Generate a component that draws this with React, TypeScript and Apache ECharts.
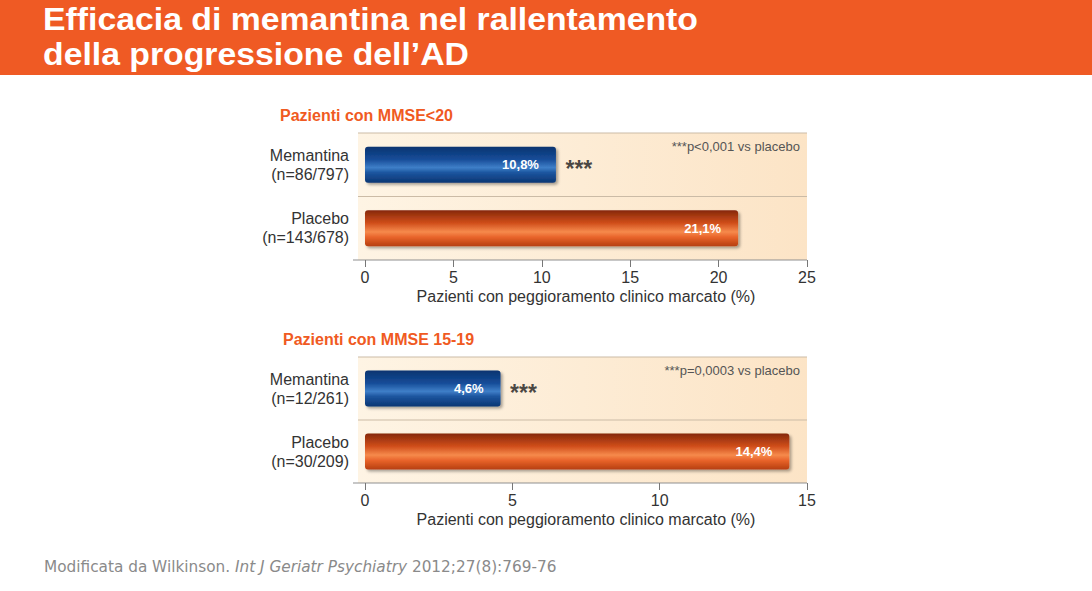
import React, { useEffect, useRef } from "react";
import * as echarts from "echarts";

const titleLines = ["Efficacia di memantina nel rallentamento", "della progressione dell\u2019AD"];
const panelTitles = ["Pazienti con MMSE<20", "Pazienti con MMSE 15-19"];
const groups1 = ["Memantina\n(n=86/797)", "Placebo\n(n=143/678)"];
const values1 = [10.8, 21.1];
const groups2 = ["Memantina\n(n=12/261)", "Placebo\n(n=30/209)"];
const values2 = [4.6, 14.4];
const axisMax = [25, 15];
const axisInterval = [5, 5];
const notes = ["***p<0,001 vs placebo", "***p=0,0003 vs placebo"];
const stars = "***";
const axisName = "Pazienti con peggioramento clinico marcato (%)";
const footerPlain = "Modificata da Wilkinson. ";
const footerItalic = "Int J Geriatr Psychiatry";
const footerEnd = " 2012;27(8):769-76";

const W = 1092;
const H = 591;
const PLOT_L = 365;
const PLOT_R = 807;
const EXT_L = 358;
const panels = [
  { top: 133, bottom: 260, titleY: 116, titleX: 280 },
  { top: 357, bottom: 483, titleY: 340, titleX: 283 },
];

const FONT = "'Liberation Sans', Arial, sans-serif";

const blueGrad = new echarts.graphic.LinearGradient(0, 0, 0, 1, [
  { offset: 0, color: "#0a3470" },
  { offset: 0.35, color: "#154c98" },
  { offset: 0.58, color: "#3f7fc8" },
  { offset: 0.72, color: "#1c559f" },
  { offset: 1, color: "#0b3673" },
]);
const orangeGrad = new echarts.graphic.LinearGradient(0, 0, 0, 1, [
  { offset: 0, color: "#85280a" },
  { offset: 0.35, color: "#cf4d1a" },
  { offset: 0.6, color: "#f68a4c" },
  { offset: 0.75, color: "#e8632a" },
  { offset: 1, color: "#b63f10" },
]);

function fmt(v: number) {
  return v.toFixed(1).replace(".", ",") + "%";
}

export default function App() {
  const ref = useRef<HTMLDivElement>(null);
  useEffect(() => {
    if (!ref.current) return;
    const chart = echarts.init(ref.current, null, { renderer: "svg" });
    const groups = [groups1, groups2];
    const values = [values1, values2];

    const grids: any[] = [];
    const xAxes: any[] = [];
    const yAxes: any[] = [];
    const series: any[] = [];
    const graphics: any[] = [
      { type: "rect", shape: { x: 0, y: 0, width: W, height: 75 }, style: { fill: "#ef5a24" }, z: -20 },
      ...titleLines.map((t, k) => ({
        type: "text",
        x: 43,
        y: 3.5 + k * 35,
        scaleX: 1.09,
        style: {
          text: t,
          fill: "#ffffff",
          font: "bold 31px 'Liberation Sans Narrow', 'Arial Narrow', sans-serif",
          lineHeight: 32,
        },
      })),
      {
        type: "text",
        x: 44,
        y: 559,
        style: {
          text: `{a|${footerPlain}}{b|${footerItalic}}{a|${footerEnd}}`,
          rich: {
            a: { fill: "#8a8a8a", fontSize: 15.3, fontFamily: "'DejaVu Sans', sans-serif" },
            b: { fill: "#8a8a8a", fontSize: 15.3, fontStyle: "italic", fontFamily: "'DejaVu Sans', sans-serif" },
          },
        },
      },
    ];

    panels.forEach((p, i) => {
      const h = p.bottom - p.top;
      grids.push({ left: PLOT_L, width: PLOT_R - PLOT_L, top: p.top, height: h });
      xAxes.push({
        type: "value",
        gridIndex: i,
        min: 0,
        max: axisMax[i],
        interval: axisInterval[i],
        axisLine: { show: false },
        axisTick: { show: true, length: 7, lineStyle: { color: "#777", width: 1 } },
        splitLine: { show: false },
        axisLabel: { color: "#333", fontSize: 16, fontFamily: FONT, margin: 9 },
        name: axisName,
        nameLocation: "middle",
        nameGap: 28,
        nameTextStyle: { color: "#333", fontSize: 16, fontFamily: FONT },
      });
      yAxes.push({
        type: "category",
        gridIndex: i,
        data: groups[i],
        inverse: true,
        axisLine: { show: false },
        axisTick: { show: false },
        splitLine: { show: false },
        axisLabel: { color: "#333", fontSize: 16, fontFamily: FONT, margin: 16, lineHeight: 19, align: "right" },
      });
      series.push({
        type: "bar",
        xAxisIndex: i,
        yAxisIndex: i,
        barWidth: 36,
        data: values[i].map((v, k) => ({
          value: v,
          itemStyle: {
            color: k === 0 ? blueGrad : orangeGrad,
            borderRadius: 3,
            shadowColor: "rgba(0,0,0,0.35)",
            shadowBlur: 3,
            shadowOffsetX: 2,
            shadowOffsetY: 2,
          },
        })),
        label: {
          show: true,
          position: "insideRight",
          distance: 17,
          formatter: (pp: any) => fmt(pp.value),
          color: "#fff",
          fontWeight: "bold",
          fontSize: 13,
          fontFamily: FONT,
        },
        z: 3,
      });
      series.push({
        type: "scatter",
        xAxisIndex: i,
        yAxisIndex: i,
        symbol: "circle",
        symbolSize: 1,
        itemStyle: { color: "rgba(0,0,0,0)" },
        data: [[values[i][0], groups[i][0]]],
        label: {
          show: true,
          position: "right",
          distance: 9,
          offset: [0, 4],
          formatter: stars,
          color: "#1a1a1a",
          fontWeight: "bold",
          fontSize: 23,
          fontFamily: FONT,
        },
        z: 4,
      });
      graphics.push({
        type: "rect",
        shape: { x: EXT_L, y: p.top, width: PLOT_R - EXT_L, height: h },
        style: {
          fill: new echarts.graphic.LinearGradient(0, 0, 1, 0, [
            { offset: 0, color: "#fef4e4" },
            { offset: 1, color: "#fce4c6" },
          ]),
        },
        z: -10,
      });
      [p.top, p.top + h / 2].forEach((y) => {
        graphics.push({
          type: "line",
          shape: { x1: EXT_L, y1: y, x2: PLOT_R, y2: y },
          style: { stroke: "#cbbba6", lineWidth: 1 },
          z: -5,
        });
      });
      graphics.push({
        type: "line",
        shape: { x1: EXT_L - 5, y1: p.bottom, x2: PLOT_R, y2: p.bottom },
        style: { stroke: "#8f8f8f", lineWidth: 1.2 },
        z: -5,
      });
      graphics.push({
        type: "text",
        x: p.titleX,
        y: p.titleY - 9,
        style: { text: panelTitles[i], fill: "#f05a22", font: `bold 16px ${FONT}` },
      });
      graphics.push({
        type: "text",
        x: 800,
        y: p.top + 7,
        style: { text: notes[i], fill: "#555", font: `13px ${FONT}`, align: "right" },
      });
    });

    chart.setOption({
      animation: false,
      backgroundColor: "#ffffff",
      grid: grids,
      xAxis: xAxes,
      yAxis: yAxes,
      series,
      graphic: graphics,
    });
    return () => chart.dispose();
  }, []);
  return <div ref={ref} style={{ position: "fixed", left: 0, top: 0, width: W, height: H }} />;
}
